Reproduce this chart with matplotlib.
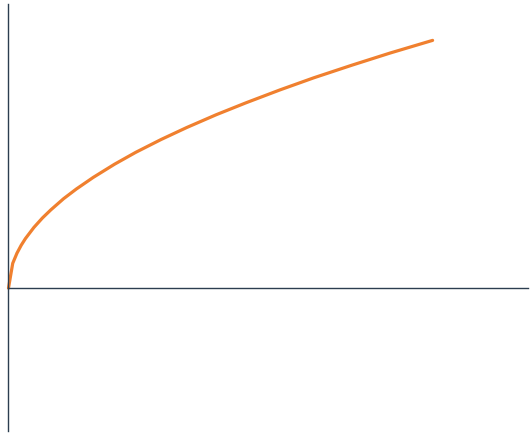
import matplotlib
matplotlib.use("Agg")
from matplotlib import pyplot as plt

# values
x_vals = [0, 1, 2, 3, 4, 6, 8, 10, 13, 16, 20, 25, 30, 36, 42, 49, 56,
          64, 72, 81, 90, 100]
y_vals = [0, 1.0, 1.41, 1.73, 2.0, 2.45, 2.83, 3.16, 3.61, 4.0, 4.47,
          5.0, 5.48, 6.0, 6.48, 7.0, 7.48, 8.0, 8.49, 9.0, 9.49, 10.0]

line_color = "#f0802f"
axis_color = "#2c3e50"

fig = plt.figure(figsize=(5.31, 4.33), dpi=100)
ax = fig.add_axes([0, 0, 1, 1])

ax.plot(x_vals, y_vals, color=line_color, linewidth=2.3,
        solid_capstyle="round", solid_joinstyle="round")

ax.set_xlim(-2.0, 123.2)
ax.set_ylim(-5.85, 11.63)

# axes crossing at the origin
for side in ["top", "right"]:
    ax.spines[side].set_visible(False)
ax.spines["left"].set_position(("data", 0))
ax.spines["bottom"].set_position(("data", 0))
ax.spines["left"].set_bounds(-5.75, 11.45)
ax.spines["bottom"].set_bounds(0, 122.4)
for side in ["left", "bottom"]:
    ax.spines[side].set_color(axis_color)
    ax.spines[side].set_linewidth(1.0)
ax.set_xticks([])
ax.set_yticks([])
ax.patch.set_alpha(0)

fig.savefig("out.png", dpi=100)
